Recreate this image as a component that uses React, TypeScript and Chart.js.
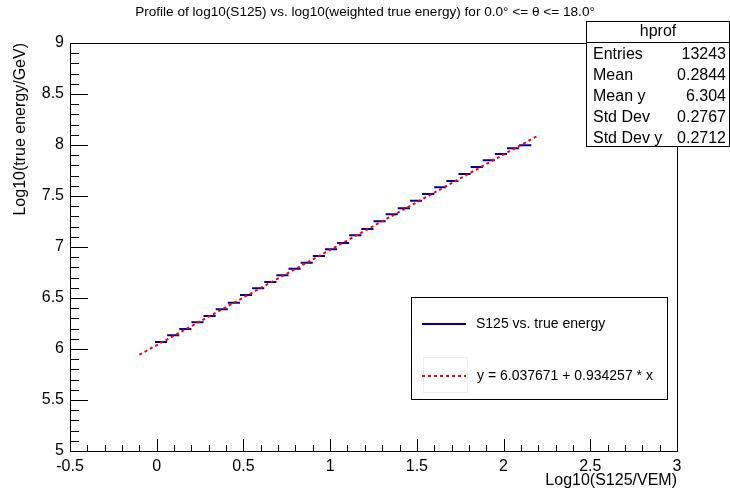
import React, { useEffect, useRef } from 'react';
import { Chart, registerables } from 'chart.js';

Chart.register(...registerables);

// ---- data ----
const binCenters = [0.025, 0.095, 0.165, 0.235, 0.305, 0.375, 0.445, 0.515, 0.585, 0.655, 0.725, 0.795, 0.865, 0.935, 1.005, 1.075, 1.145, 1.215, 1.285, 1.355, 1.425, 1.495, 1.565, 1.635, 1.705, 1.775, 1.845, 1.915, 1.985, 2.055, 2.125];
const profileMeans = [6.069, 6.134, 6.196, 6.262, 6.324, 6.389, 6.454, 6.529, 6.595, 6.657, 6.723, 6.787, 6.846, 6.912, 6.977, 7.039, 7.115, 7.176, 7.252, 7.321, 7.379, 7.454, 7.52, 7.585, 7.647, 7.715, 7.784, 7.85, 7.912, 7.968, 7.997];
const binWidth = 0.07;
const fitX = [-0.1, 2.2];
const fitY = [5.944, 8.093];

const xMin = -0.5, xMax = 3, yMin = 5, yMax = 9;
const majorStep = 0.5, minorStep = 0.1;

const titleText = 'Profile of log10(S125) vs. log10(weighted true energy) for 0.0\u00b0 <= \u03b8 <= 18.0\u00b0';
const xTitle = 'Log10(S125/VEM)';
const yTitle = 'Log10(true energy/GeV)';

const statsName = 'hprof';
const statsLabels = ['Entries', 'Mean', 'Mean y', 'Std Dev', 'Std Dev y'];
const statsValues = ['13243', '0.2844', '6.304', '0.2767', '0.2712'];

const legendLabels = ['S125 vs. true energy', 'y = 6.037671 + 0.934257 * x'];

const FONT = '"Liberation Sans", Arial, Helvetica, sans-serif';
const BLUE = '#000099';
const RED = '#ff0000';

const rootPlugin = {
  id: 'rootStyle',
  afterDraw(chart: any) {
    const ctx = chart.ctx as CanvasRenderingContext2D;
    const { left, right, top, bottom } = chart.chartArea;
    const xs = chart.scales.x;
    const ys = chart.scales.y;
    ctx.save();
    ctx.strokeStyle = '#000';
    ctx.fillStyle = '#000';
    ctx.lineWidth = 1;
    // frame
    ctx.strokeRect(Math.round(left) + 0.5, Math.round(top) + 0.5, Math.round(right - left), Math.round(bottom - top));
    // x ticks (inside)
    const nx = Math.round((xMax - xMin) / minorStep);
    ctx.beginPath();
    for (let i = 0; i <= nx; i++) {
      const v = xMin + i * minorStep;
      const px = Math.round(xs.getPixelForValue(v)) + 0.5;
      const len = i % 5 === 0 ? 12 : 6;
      ctx.moveTo(px, bottom);
      ctx.lineTo(px, bottom - len);
    }
    const ny = Math.round((yMax - yMin) / minorStep);
    for (let i = 0; i <= ny; i++) {
      const v = yMin + i * minorStep;
      const py = Math.round(ys.getPixelForValue(v)) + 0.5;
      const len = i % 5 === 0 ? 18 : 9;
      ctx.moveTo(left, py);
      ctx.lineTo(left + len, py);
    }
    ctx.stroke();

    // title
    ctx.font = `13.6px ${FONT}`;
    ctx.textAlign = 'center';
    ctx.textBaseline = 'middle';
    ctx.fillText(titleText, 365, 12);

    // axis titles (right aligned, ROOT style)
    ctx.font = `16px ${FONT}`;
    ctx.textAlign = 'right';
    ctx.textBaseline = 'middle';
    ctx.fillText(xTitle, right, 481);
    ctx.save();
    ctx.translate(21, top);
    ctx.rotate(-Math.PI / 2);
    ctx.textAlign = 'right';
    ctx.fillText(yTitle, 0, 0);
    ctx.restore();

    // stats box
    const sx = 586.5, sy = 21.5, sw = 143, sh = 125;
    ctx.fillStyle = '#fff';
    ctx.fillRect(sx, sy, sw, sh);
    ctx.strokeStyle = '#000';
    ctx.strokeRect(sx, sy, sw, sh);
    ctx.beginPath();
    ctx.moveTo(sx, 42.5);
    ctx.lineTo(sx + sw, 42.5);
    ctx.stroke();
    ctx.fillStyle = '#000';
    ctx.font = `16px ${FONT}`;
    ctx.textAlign = 'center';
    ctx.fillText(statsName, sx + sw / 2, 32);
    statsLabels.forEach((lab, i) => {
      const yy = 55 + i * 20.8;
      ctx.textAlign = 'left';
      ctx.fillText(lab, 593, yy);
      ctx.textAlign = 'right';
      ctx.fillText(statsValues[i], 726, yy);
    });

    // legend
    const lx = 411.5, ly = 297.5, lw = 256, lh = 102;
    ctx.fillStyle = '#fff';
    ctx.fillRect(lx, ly, lw, lh);
    ctx.strokeStyle = '#000';
    ctx.strokeRect(lx, ly, lw, lh);
    ctx.strokeStyle = '#eeeeee';
    ctx.strokeRect(423.5, 357.5, 44, 35);
    ctx.lineWidth = 2;
    ctx.strokeStyle = BLUE;
    ctx.beginPath();
    ctx.moveTo(422, 324);
    ctx.lineTo(466, 324);
    ctx.stroke();
    ctx.strokeStyle = RED;
    ctx.setLineDash([3, 3]);
    ctx.beginPath();
    ctx.moveTo(422, 376);
    ctx.lineTo(466, 376);
    ctx.stroke();
    ctx.setLineDash([]);
    ctx.fillStyle = '#000';
    ctx.font = `14px ${FONT}`;
    ctx.textAlign = 'left';
    ctx.fillText(legendLabels[0], 476, 324);
    ctx.fillText(legendLabels[1], 477, 376);
    ctx.restore();
  },
};

export default function App() {
  const ref = useRef<HTMLCanvasElement | null>(null);
  useEffect(() => {
    if (!ref.current) return;
    const profileData: any[] = [];
    binCenters.forEach((c, i) => {
      profileData.push({ x: c - binWidth / 2, y: profileMeans[i] });
      profileData.push({ x: c + binWidth / 2, y: profileMeans[i] });
      profileData.push({ x: c + binWidth / 2, y: null });
    });
    const fitData = fitX.map((x, i) => ({ x, y: fitY[i] }));
    const chart = new Chart(ref.current, {
      type: 'scatter',
      data: {
        datasets: [
          {
            label: legendLabels[1],
            data: fitData,
            showLine: true,
            borderColor: RED,
            backgroundColor: RED,
            borderWidth: 2,
            borderDash: [3, 3],
            pointRadius: 0,
            order: 0,
          },
          {
            label: legendLabels[0],
            data: profileData,
            showLine: true,
            spanGaps: false,
            borderColor: BLUE,
            backgroundColor: BLUE,
            borderWidth: 2,
            pointRadius: 0,
            order: 1,
          },
        ],
      },
      options: {
        animation: false,
        responsive: false,
        devicePixelRatio: 1,
        layout: { padding: { top: 43, right: 53, left: 0, bottom: 0 } },
        plugins: { legend: { display: false }, tooltip: { enabled: false }, title: { display: false } },
        scales: {
          x: {
            type: 'linear',
            min: xMin,
            max: xMax,
            grid: { display: false, drawTicks: false },
            border: { display: false },
            ticks: {
              stepSize: majorStep,
              autoSkip: false,
              maxRotation: 0,
              padding: 6,
              color: '#000',
              font: { family: FONT, size: 16 },
              callback: (v: any) => String(Number(v)),
            },
            afterFit: (s: any) => { s.height = 45; },
          },
          y: {
            type: 'linear',
            min: yMin,
            max: yMax,
            grid: { display: false, drawTicks: false },
            border: { display: false },
            ticks: {
              stepSize: majorStep,
              autoSkip: false,
              padding: 6,
              color: '#000',
              font: { family: FONT, size: 16 },
              callback: (v: any) => String(Number(v)),
            },
            afterFit: (s: any) => { s.width = 70; },
          },
        },
      },
      plugins: [rootPlugin],
    } as any);
    return () => chart.destroy();
  }, []);
  return (
    <div style={{ position: 'absolute', left: 0, top: 0, width: 730, height: 496, background: '#fff' }}>
      <canvas ref={ref} width={730} height={496} style={{ width: 730, height: 496, display: 'block' }} />
    </div>
  );
}
